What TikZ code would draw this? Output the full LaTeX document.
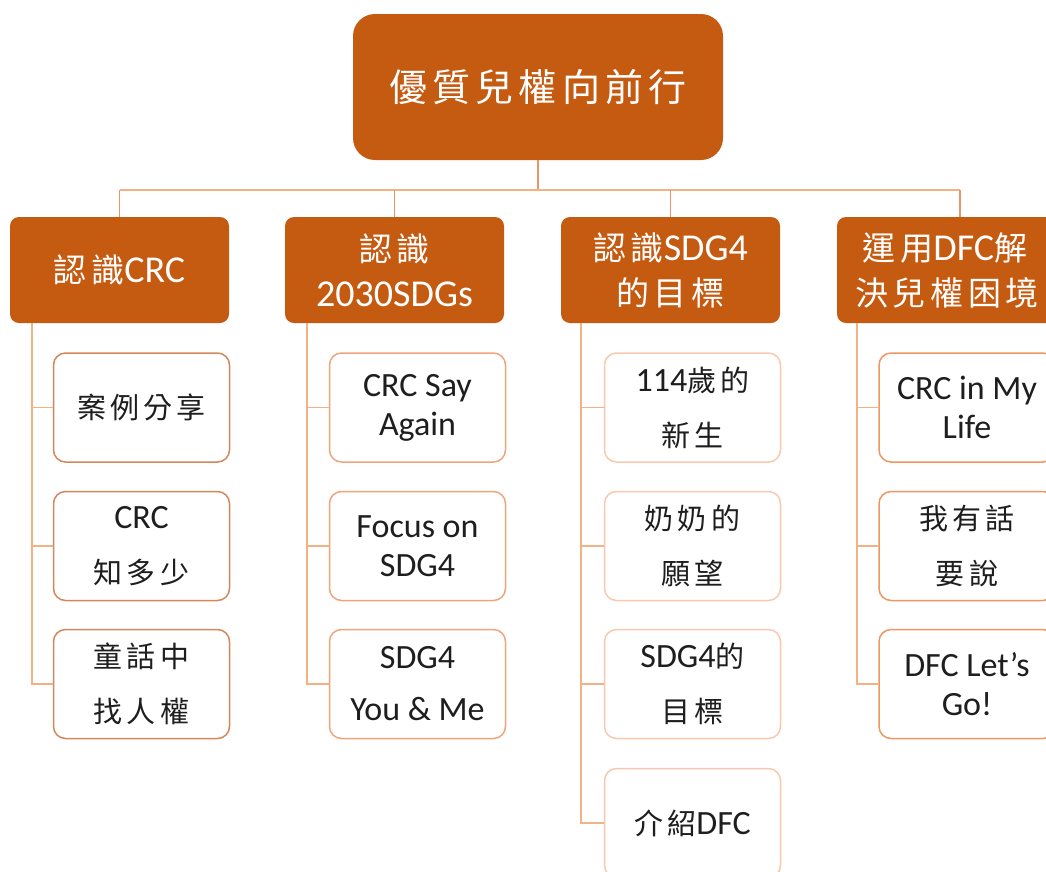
\documentclass[tikz,border=0pt]{standalone}
\usepackage{fontspec}
\setmainfont{Carlito}
\newfontfamily\cjkfont[LetterSpace=14]{Noto Sans CJK TC}
\definecolor{brand}{HTML}{C55A11}
\definecolor{bcA}{HTML}{D4875A}
\definecolor{bcB}{HTML}{F0A47C}
\definecolor{bcC}{HTML}{F8C9AE}
\definecolor{bcD}{HTML}{EE9762}
\definecolor{lineA}{HTML}{EC9466}
\definecolor{lineB}{HTML}{F4B183}
\definecolor{ink}{HTML}{1E1E1E}
\newcommand\Rc[1]{{\cjkfont\fontsize{38}{46}\selectfont #1}}
\newcommand\Lc[1]{{\cjkfont\fontsize{33}{45}\selectfont #1}}
\newcommand\Cc[1]{{\cjkfont\fontsize{29}{39}\selectfont #1}}
\tikzset{
  rootbox/.style={fill=brand, rounded corners=22pt, minimum width=370pt, minimum height=146pt,
    inner sep=0pt, text=white, align=center},
  lvlbox/.style={fill=brand, rounded corners=9pt, minimum width=219pt, minimum height=106pt,
    inner sep=0pt, text=white, align=center, font=\fontsize{38}{45}\selectfont},
  childbox/.style={draw, line width=1.5pt, fill=white, rounded corners=12pt, minimum width=176pt,
    minimum height=109pt, inner sep=0pt, text=ink, align=center, font=\fontsize{34}{39}\selectfont},
  topline/.style={draw=lineA, line width=1.6pt},
  subline/.style={draw=lineB, line width=1.6pt},
}
\begin{document}
\begin{tikzpicture}[x=1pt,y=-1pt]
\useasboundingbox (0,0) rectangle (1046,871);
\clip (0,0) rectangle (1046,871);
% root
\node[rootbox] (root) at (538,87) {\Rc{優質兒權向前行}};
% level 1
\node[lvlbox] (A) at (119.5,270) {\Lc{認識}CRC};
\node[lvlbox] (B) at (394.5,270) {\Lc{認識}\\2030SDGs};
\node[lvlbox] (C) at (670.5,270) {\Lc{認識}SDG4\\\Lc{的目標}};
\node[lvlbox, minimum width=246pt] (D) at (960,270)
  {\Lc{運用}DFC\Lc{解}\hspace*{30pt}\\\Lc{決兒權困境}\hspace*{26pt}};
% children A
\node[childbox, draw=bcA] (A1) at (141.5,407.5) {\Cc{案例分享}};
\node[childbox, draw=bcA] (A2) at (141.5,546) {CRC\\[16pt]\Cc{知多少}};
\node[childbox, draw=bcA] (A3) at (141.5,684) {\Cc{童話中}\\[16pt]\Cc{找人權}};
% children B
\node[childbox, draw=bcB] (B1) at (417.5,407.5) {CRC Say\\Again};
\node[childbox, draw=bcB] (B2) at (417.5,546) {Focus on\\SDG4};
\node[childbox, draw=bcB] (B3) at (417.5,684) {SDG4\\[13pt]You \& Me};
% children C
\node[childbox, draw=bcC] (C1) at (692.5,407.5) {114\Cc{歲的}\\[16pt]\Cc{新生}};
\node[childbox, draw=bcC] (C2) at (692.5,546) {\Cc{奶奶的}\\[16pt]\Cc{願望}};
\node[childbox, draw=bcC] (C3) at (692.5,684) {SDG4\Cc{的}\\[16pt]\Cc{目標}};
\node[childbox, draw=bcC] (C4) at (692.5,823) {\Cc{介紹}DFC};
% children D
\node[childbox, draw=bcD] (D1) at (967,407.5) {CRC in My\\Life};
\node[childbox, draw=bcD] (D2) at (967,546) {\Cc{我有話}\\[16pt]\Cc{要說}};
\node[childbox, draw=bcD] (D3) at (967,684) {DFC Let’s\\Go!};
% top connectors
\coordinate (bus) at (538,190);
\draw[topline] (root.south) -- (bus);
\draw[subline] (A.north |- bus) -- (D.north |- bus);
\draw[topline] (A.north) -- (A.north |- bus);
\draw[topline] (B.north) -- (B.north |- bus);
\draw[topline] (C.north) -- (C.north |- bus);
\draw[topline] (D.north) -- (D.north |- bus);
% trunks
\coordinate (At) at ([xshift=22pt]A.south west);
\coordinate (Bt) at ([xshift=22pt]B.south west);
\coordinate (Ct) at ([xshift=20pt]C.south west);
\coordinate (Dt) at ([xshift=20pt]D.south west);
\draw[subline] (At) |- (A3.west);
\draw[subline] (At |- A1.west) -- (A1.west);
\draw[subline] (At |- A2.west) -- (A2.west);
\draw[subline] (Bt) |- (B3.west);
\draw[subline] (Bt |- B1.west) -- (B1.west);
\draw[subline] (Bt |- B2.west) -- (B2.west);
\draw[subline] (Ct) |- (C4.west);
\draw[subline] (Ct |- C1.west) -- (C1.west);
\draw[subline] (Ct |- C2.west) -- (C2.west);
\draw[subline] (Ct |- C3.west) -- (C3.west);
\draw[subline] (Dt) |- (D3.west);
\draw[subline] (Dt |- D1.west) -- (D1.west);
\draw[subline] (Dt |- D2.west) -- (D2.west);
\end{tikzpicture}
\end{document}
